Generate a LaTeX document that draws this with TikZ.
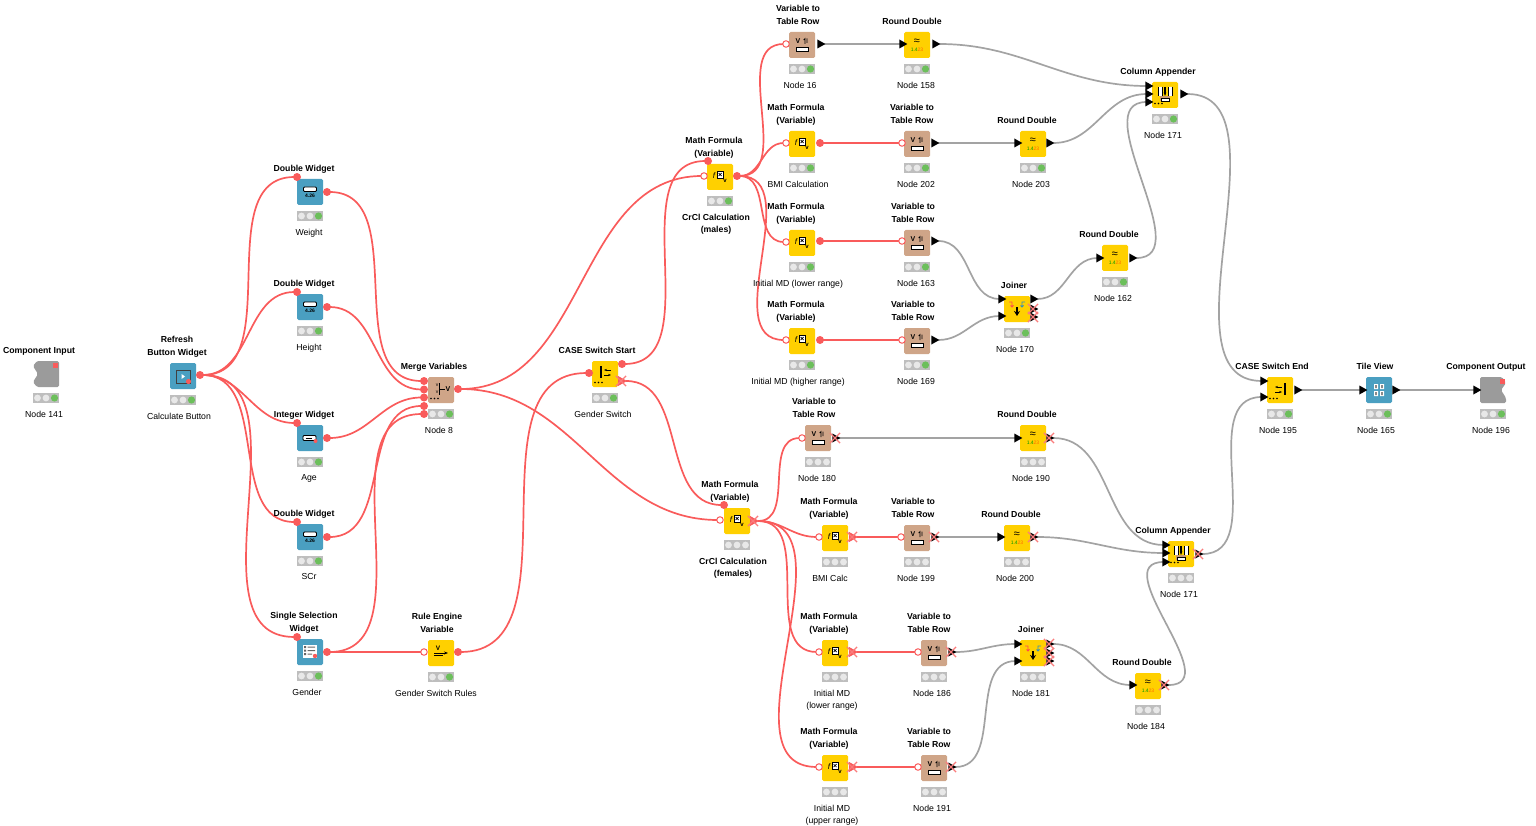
\documentclass[tikz,border=0pt]{standalone}
\usepackage{fontspec}
\setmainfont{Liberation Sans}
\usetikzlibrary{shapes.geometric,shapes.misc,backgrounds,arrows.meta}

\definecolor{knyellow}{HTML}{FFD000}
\definecolor{kntan}{HTML}{CFA588}
\definecolor{knblue}{HTML}{4A9FC1}
\definecolor{kngray}{HTML}{9B9B9B}
\definecolor{knred}{HTML}{F95B5B}
\definecolor{knwire}{HTML}{A3A3A3}
\definecolor{knlamp}{HTML}{BEBEBE}
\definecolor{knlight}{HTML}{E8E8E8}
\definecolor{kngreen}{HTML}{6CBF5B}

\newcommand{\threedots}{\fill (-10,8.5) circle (0.9) (-6.5,8.5) circle (0.9) (-3,8.5) circle (0.9);}

\tikzset{
  box/.style={rectangle, rounded corners=1.5, minimum size=26, inner sep=0},
  yellowbox/.style={box, fill=knyellow},
  tanbox/.style={box, fill=kntan},
  bluebox/.style={box, fill=knblue},
  compbox/.style={box},
  title/.style={font=\bfseries\fontsize{8.7}{12.6}\selectfont, align=center, anchor=south, inner sep=0, text depth=2pt},
  caption/.style={font=\fontsize{8.7}{12.4}\selectfont, align=center, anchor=north, inner sep=0},
  tiny/.style={font=\fontsize{#1}{#1}\selectfont, inner sep=0},
  varout/.style={circle, fill=knred, minimum size=8, inner sep=0},
  varin/.style={circle, draw=knred, fill=white, line width=1, minimum size=6.5, inner sep=0},
  dataport/.style={isosceles triangle, isosceles triangle stretches, fill=black, minimum width=9, minimum height=8, inner sep=0, xshift=-1},
  redport/.style={dataport, fill=knred, minimum width=10, minimum height=9},
  xmark/.style={cross out, draw=knred!80, line width=1.2, minimum size=9, inner sep=0},
  offmark/.style={label={[xmark]center:}},
  wirered/.style={draw=knred, line width=1.7, shorten <=-1.5pt, shorten >=-1.5pt},
  wiregray/.style={draw=knwire, line width=1.7, shorten <=-1.5pt, shorten >=-1.5pt},
  curve/.style={out=0, in=180},
  % lamps under the nodes
  pics/lampok/.style={code={
    \fill[knlamp] (-13,-5) rectangle (13,5);
    \fill[knlight] (-8.5,0) circle (3.4) (0,0) circle (3.4);
    \fill[kngreen] (8.5,0) circle (3.6);
  }},
  pics/lampoff/.style={code={
    \fill[knlamp] (-13,-5) rectangle (13,5);
    \fill[knlight] (-8.5,0) circle (3.4) (0,0) circle (3.4) (8.5,0) circle (3.4);
  }},
  % node icons
  pics/vtricon/.style={code={
    \node[tiny=7] at (-4,-4) {\bfseries V};
    \draw[line width=.7] (3,-1) -- (3,-6.5) -- (1.5,-5) (5,-6.5) -- (5,-2);
    \draw[line width=.7, fill=white] (-6,2) rectangle (6,6.5);
  }},
  pics/roundicon/.style={code={
    \node[tiny=11] at (0,-3) {≈};
    \node[tiny=5] at (0,5) {\textcolor{green!60!black}{1.4}\textcolor{orange!80!red}{23}};
  }},
  pics/mathicon/.style={code={
    \node[tiny=8] at (-6,-1) {\itshape f};
    \draw[line width=.6, fill=white] (-3,-6) rectangle (3,1);
    \draw[line width=.7] (-1.5,-4) -- (1.5,-1) (-1.5,-1) -- (1.5,-4);
    \node[tiny=6] at (5,4) {\bfseries v};
  }},
  pics/joinicon/.style={code={
    \draw[red!70, line width=.8] (-8,-7) -- (-5,-7) -- (-5,-2) (-6.5,-3.5) -- (-5,-2) -- (-3.5,-3.5);
    \draw[cyan!70!black, line width=.8] (8,-7) -- (5,-7) -- (5,-2) (6.5,-3.5) -- (5,-2) -- (3.5,-3.5);
    \draw[line width=1.4, -{Stealth[length=5, width=6]}] (0,-2) -- (0,7);
  }},
  pics/colicon/.style={code={
    \fill[white] (-7,-8) rectangle (-3,1) (3,-8) rectangle (7,1);
    \draw[line width=.7] (-7,-8) -- (-7,1) (-3,-8) -- (-3,1) (3,-8) -- (3,1) (7,-8) -- (7,1);
    \draw[line width=1.1, -{Stealth[length=3.5]}] (0,-8) -- (0,1);
    \fill[kntan!70!brown] (-5,1) rectangle (5,6);
    \draw[line width=.5, fill=white] (-4,3) rectangle (4,6);
    \threedots
  }},
  pics/mergeicon/.style={code={
    \node[tiny=5] at (-4,-5) {v};
    \node[tiny=5] at (-4,2) {v};
    \draw[line width=.7] (-1.5,-7) -- (-1.5,5) (-1.5,-1) -- (4,-1);
    \node[tiny=7] at (7,-1) {\bfseries V};
    \threedots
  }},
  pics/starticon/.style={code={
    \draw[line width=1.1] (-4,-8) -- (-4,4);
    \draw[line width=.8, {Stealth[length=3]}-] (-1,-4) -- (6,-4);
    \draw[line width=.8, -{Stealth[length=3]}] (-1,1) -- (6,1);
    \threedots
  }},
  pics/endicon/.style={code={
    \draw[line width=1.1] (5,-7) -- (5,5);
    \draw[line width=.8, {Stealth[length=3]}-] (-5,-3) -- (2,-3);
    \draw[line width=.8, -{Stealth[length=3]}] (-5,2) -- (2,2);
    \threedots
  }},
  pics/ruleicon/.style={code={
    \node[tiny=6.5] at (-3,-5) {\bfseries V};
    \draw[line width=.9, -{Stealth[length=4]}] (-7,0) -- (7,0);
    \draw[line width=.9] (-7,2.5) -- (2,2.5);
  }},
  pics/tileicon/.style={code={
    \fill[white] (-5,-6) rectangle (-1,-1) (1,-6) rectangle (5,-1) (-5,1) rectangle (-1,6) (1,1) rectangle (5,6);
    \fill[black!70] (-3.6,-5) rectangle (-2.4,-2) (2.4,-5) rectangle (3.6,-2) (-3.6,2) rectangle (-2.4,5) (2.4,2) rectangle (3.6,5);
  }},
  pics/doubleicon/.style={code={
    \draw[line width=.9, fill=white, rounded corners=1] (-6.5,-5) rectangle (6.5,-0.5);
    \node[tiny=5] at (0,3.5) {\bfseries 4.26};
  }},
  pics/inticon/.style={code={
    \draw[line width=.9, fill=white, rounded corners=1] (-7,-2.5) rectangle (6,2.5);
    \draw[line width=.6] (-4.5,0) -- (2,0);
    \fill[knred] (5.5,3) circle (2);
  }},
  pics/selecticon/.style={code={
    \fill[white] (-7,-7) rectangle (7,6);
    \fill[black!60] (-6,-6) rectangle (-4,-4) (-6,-2.5) rectangle (-4,-0.5) (-6,1) rectangle (-4,3) (-2.5,-5.5) rectangle (5,-4.5) (-2.5,-2) rectangle (5,-1) (-2.5,1.5) rectangle (2,2.5);
    \fill[knred] (5,4) circle (2.2);
  }},
  pics/refreshicon/.style={code={
    \draw[line width=.8, black!75] (-7,-6) rectangle (7,7);
    \fill[white] (-1.5,-2) -- (2,0.5) -- (-1.5,3) -- cycle;
    \fill[knred] (5.5,5.5) circle (2.6);
  }},
  pics/inputicon/.style={code={
    \fill[kngray, rounded corners=1.5] (-9,-13) -- (13,-13) -- (13,13) -- (-9,13) -- (-13,8) -- (-8,0) -- (-13,-8) -- cycle;
    \fill[knred] (7,-11) rectangle (12,-6);
  }},
  pics/outputicon/.style={code={
    \fill[kngray, rounded corners=1.5] (-13,-13) -- (9,-13) -- (13,-7) -- (8,0) -- (13,8) -- (13,13) -- (-13,13) -- cycle;
    \fill[knred] (7,-11) rectangle (12,-6);
  }},
}

% name, x, y, box style, icon, title, title x, caption, caption x
\newcommand{\wfnode}[9]{
  \node[#4] (#1) at (#2,#3) {};
  \pic at (#1.center) {#5};
  \pic at (#2,#3+24) {\lamp};
  \node[title] (#1-title) at (#7,#3-18.7) {#6};
  \node[caption] (#1-caption) at (#9,#3+36.5) {#8};
}

\begin{document}
\begin{tikzpicture}[x=1pt, y=-1pt]
  \useasboundingbox (0,0) rectangle (1536,826);
  \def\lamp{lampok}

  \wfnode{cinput}{46}{374}{compbox}{inputicon}{Component Input}{39}{Node 141}{44}
  \wfnode{refresh}{183}{376}{bluebox}{refreshicon}{Refresh\\Button Widget}{177}{Calculate Button}{179}
  \wfnode{weight}{310}{192}{bluebox}{doubleicon}{Double Widget}{304}{Weight}{309}
  \wfnode{height}{310}{307}{bluebox}{doubleicon}{Double Widget}{304}{Height}{309}
  \wfnode{age}{310}{438}{bluebox}{inticon}{Integer Widget}{304}{Age}{309}
  \wfnode{scr}{310}{537}{bluebox}{doubleicon}{Double Widget}{304}{SCr}{309}
  \wfnode{gender}{310}{652}{bluebox}{selecticon}{Single Selection\\Widget}{304}{Gender}{307}
  \wfnode{merge}{441}{390}{tanbox}{mergeicon}{Merge Variables}{434}{Node 8}{439}
  \wfnode{rulevar}{441}{653}{yellowbox}{ruleicon}{Rule Engine\\Variable}{437}{Gender Switch Rules}{436}
  \wfnode{swstart}{605}{374}{yellowbox}{starticon}{CASE Switch Start}{597}{Gender Switch}{603}

  \wfnode{crclm}{720}{177}{yellowbox}{mathicon}{Math Formula\\(Variable)}{714}{\bfseries CrCl Calculation\\\bfseries (males)}{716}
  \wfnode{n16}{802}{45}{tanbox}{vtricon}{Variable to\\Table Row}{798}{Node 16}{800}
  \wfnode{n158}{917}{45}{yellowbox}{roundicon}{Round Double}{912}{Node 158}{916}
  \wfnode{bmi}{802}{144}{yellowbox}{mathicon}{Math Formula\\(Variable)}{796}{BMI Calculation}{798}
  \wfnode{n202}{917}{144}{tanbox}{vtricon}{Variable to\\Table Row}{912}{Node 202}{916}
  \wfnode{n203}{1033}{144}{yellowbox}{roundicon}{Round Double}{1027}{Node 203}{1031}
  \wfnode{lowm}{802}{243}{yellowbox}{mathicon}{Math Formula\\(Variable)}{796}{Initial MD (lower range)}{798}
  \wfnode{n163}{917}{243}{tanbox}{vtricon}{Variable to\\Table Row}{913}{Node 163}{916}
  \wfnode{highm}{802}{341}{yellowbox}{mathicon}{Math Formula\\(Variable)}{796}{Initial MD (higher range)}{798}
  \wfnode{n169}{917}{341}{tanbox}{vtricon}{Variable to\\Table Row}{913}{Node 169}{916}
  \wfnode{join170}{1017}{309}{yellowbox}{joinicon}{Joiner}{1014}{Node 170}{1015}
  \wfnode{n162}{1115}{258}{yellowbox}{roundicon}{Round Double}{1109}{Node 162}{1113}
  \wfnode{col171}{1165}{95}{yellowbox}{colicon}{Column Appender}{1158}{Node 171}{1163}
  \wfnode{swend}{1280}{390}{yellowbox}{endicon}{CASE Switch End}{1272}{Node 195}{1278}
  \wfnode{tile}{1379}{390}{bluebox}{tileicon}{Tile View}{1375}{Node 165}{1376}
  \wfnode{coutput}{1493}{390}{compbox}{outputicon}{Component Output}{1486}{Node 196}{1491}

  \def\lamp{lampoff}
  \wfnode{crclf}{737}{521}{yellowbox}{mathicon}{Math Formula\\(Variable)}{730}{\bfseries CrCl Calculation\\\bfseries (females)}{733}
  \wfnode{n180}{818}{438}{tanbox}{vtricon}{Variable to\\Table Row}{814}{Node 180}{817}
  \wfnode{n190}{1033}{438}{yellowbox}{roundicon}{Round Double}{1027}{Node 190}{1031}
  \wfnode{bmic}{835}{538}{yellowbox}{mathicon}{Math Formula\\(Variable)}{829}{BMI Calc}{830}
  \wfnode{n199}{917}{538}{tanbox}{vtricon}{Variable to\\Table Row}{913}{Node 199}{916}
  \wfnode{n200}{1017}{538}{yellowbox}{roundicon}{Round Double}{1011}{Node 200}{1015}
  \wfnode{colb}{1181}{554}{yellowbox}{colicon}{Column Appender}{1173}{Node 171}{1179}
  \wfnode{lowf}{835}{653}{yellowbox}{mathicon}{Math Formula\\(Variable)}{829}{Initial MD\\(lower range)}{832}
  \wfnode{n186}{934}{653}{tanbox}{vtricon}{Variable to\\Table Row}{929}{Node 186}{932}
  \wfnode{join181}{1033}{653}{yellowbox}{joinicon}{Joiner}{1031}{Node 181}{1031}
  \wfnode{n184}{1148}{686}{yellowbox}{roundicon}{Round Double}{1142}{Node 184}{1146}
  \wfnode{upf}{835}{768}{yellowbox}{mathicon}{Math Formula\\(Variable)}{829}{Initial MD\\(upper range)}{832}
  \wfnode{n191}{934}{768}{tanbox}{vtricon}{Variable to\\Table Row}{929}{Node 191}{932}

  % ports
  \node[varout] (refresh-o) at (200,375) {};
  \node[varout] (weight-t) at (297,177) {};
  \node[varout] (weight-o) at (327,192) {};
  \node[varout] (height-t) at (297,292) {};
  \node[varout] (height-o) at (327,307) {};
  \node[varout] (age-t) at (297,423) {};
  \node[varout] (age-o) at (327,438) {};
  \node[varout] (scr-t) at (297,522) {};
  \node[varout] (scr-o) at (327,537) {};
  \node[varout] (gender-t) at (297,637) {};
  \node[varout] (gender-o) at (327,652) {};
  \node[varout] (merge-a) at (424,381) {};
  \node[varout] (merge-b) at (424,389.5) {};
  \node[varout] (merge-c) at (424,397.5) {};
  \node[varout] (merge-d) at (424,406) {};
  \node[varout] (merge-e) at (424,414) {};
  \node[varout] (merge-o) at (458,389) {};
  \node[varin] (rulevar-i) at (424,652) {};
  \node[varout] (rulevar-o) at (458,652) {};
  \node[varout] (swstart-i) at (589,373) {};
  \node[varout] (swstart-a) at (622,364) {};
  \node[redport, offmark] (swstart-b) at (622,381) {};
  \node[varout] (crclm-t) at (708,161) {};
  \node[varin] (crclm-i) at (704,176) {};
  \node[varout] (crclm-o) at (737,176) {};
  \node[varin] (n16-i) at (786,44) {};
  \node[dataport] (n16-o) at (821,44) {};
  \node[dataport] (n158-i) at (903,44) {};
  \node[dataport] (n158-o) at (936,44) {};
  \node[varin] (bmi-i) at (786,143) {};
  \node[varout] (bmi-o) at (820,143) {};
  \node[varin] (n202-i) at (902,143) {};
  \node[dataport] (n202-o) at (935,143) {};
  \node[dataport] (n203-i) at (1018,143) {};
  \node[dataport] (n203-o) at (1050,143) {};
  \node[varin] (lowm-i) at (786,242) {};
  \node[varout] (lowm-o) at (820,241) {};
  \node[varin] (n163-i) at (902,241) {};
  \node[dataport] (n163-o) at (935,241) {};
  \node[varin] (highm-i) at (786,340) {};
  \node[varout] (highm-o) at (820,340) {};
  \node[varin] (n169-i) at (902,340) {};
  \node[dataport] (n169-o) at (935,340) {};
  \node[dataport] (join170-a) at (1002,299) {};
  \node[dataport] (join170-b) at (1002,316) {};
  \node[dataport] (join170-o) at (1034,299) {};
  \node[dataport, offmark] (join170-p) at (1034,309) {};
  \node[dataport, offmark] (join170-q) at (1034,317) {};
  \node[dataport] (n162-i) at (1100,258) {};
  \node[dataport] (n162-o) at (1133,258) {};
  \node[dataport] (col171-a) at (1149,86) {};
  \node[dataport] (col171-b) at (1149,94) {};
  \node[dataport] (col171-c) at (1149,102) {};
  \node[dataport] (col171-o) at (1184,94) {};
  \node[dataport] (swend-a) at (1264,381) {};
  \node[dataport] (swend-b) at (1264,397) {};
  \node[dataport] (swend-o) at (1298,390) {};
  \node[dataport] (tile-i) at (1363,390) {};
  \node[dataport] (tile-o) at (1396,390) {};
  \node[dataport] (coutput-i) at (1477,390) {};

  \node[varout] (crclf-t) at (724,505) {};
  \node[varin] (crclf-i) at (720,520) {};
  \node[redport, offmark] (crclf-o) at (754,521) {};
  \node[varin] (n180-i) at (802,438) {};
  \node[dataport, offmark] (n180-o) at (836,438) {};
  \node[dataport] (n190-i) at (1018,438) {};
  \node[dataport, offmark] (n190-o) at (1050,438) {};
  \node[varin] (bmic-i) at (819,537) {};
  \node[redport, offmark] (bmic-o) at (853,537) {};
  \node[varin] (n199-i) at (901,537) {};
  \node[dataport, offmark] (n199-o) at (935,537) {};
  \node[dataport] (n200-i) at (1001,537) {};
  \node[dataport, offmark] (n200-o) at (1034,537) {};
  \node[dataport] (colb-a) at (1166,545) {};
  \node[dataport] (colb-b) at (1166,553) {};
  \node[dataport] (colb-c) at (1166,562) {};
  \node[dataport, offmark] (colb-o) at (1199,554) {};
  \node[varin] (lowf-i) at (819,652) {};
  \node[redport, offmark] (lowf-o) at (853,652) {};
  \node[varin] (n186-i) at (918,652) {};
  \node[dataport, offmark] (n186-o) at (952,652) {};
  \node[dataport] (join181-a) at (1018,644) {};
  \node[dataport] (join181-b) at (1018,661) {};
  \node[dataport, offmark] (join181-o) at (1050,644) {};
  \node[dataport, offmark] (join181-p) at (1050,653) {};
  \node[dataport, offmark] (join181-q) at (1050,661) {};
  \node[dataport] (n184-i) at (1133,685) {};
  \node[dataport, offmark] (n184-o) at (1165,685) {};
  \node[varin] (upf-i) at (819,767) {};
  \node[redport, offmark] (upf-o) at (853,767) {};
  \node[varin] (n191-i) at (918,767) {};
  \node[dataport, offmark] (n191-o) at (952,767) {};

  \begin{scope}[on background layer]
    % variable wires
    \draw[wirered] (refresh-o) to[curve] (weight-t);
    \draw[wirered] (refresh-o) to[curve] (height-t);
    \draw[wirered] (refresh-o) to[curve] (age-t);
    \draw[wirered] (refresh-o) to[curve] (scr-t);
    \draw[wirered] (refresh-o) to[curve] (gender-t);
    \draw[wirered] (weight-o) to[curve] (merge-a);
    \draw[wirered] (height-o) to[curve] (merge-b);
    \draw[wirered] (age-o) to[curve] (merge-c);
    \draw[wirered] (scr-o) to[curve] (merge-d);
    \draw[wirered] (gender-o) to[curve] (merge-e);
    \draw[wirered] (gender-o) to[curve] (rulevar-i);
    \draw[wirered] (rulevar-o) to[curve] (swstart-i);
    \draw[wirered] (merge-o) to[curve] (crclm-i);
    \draw[wirered] (merge-o) to[curve] (crclf-i);
    \draw[wirered] (swstart-a) to[curve] (crclm-t);
    \draw[wirered] (swstart-b) to[curve] (crclf-t);
    \draw[wirered] (crclm-o) to[curve] (n16-i);
    \draw[wirered] (crclm-o) to[curve] (bmi-i);
    \draw[wirered] (crclm-o) to[curve] (lowm-i);
    \draw[wirered] (crclm-o) to[curve] (highm-i);
    \draw[wirered] (bmi-o) to[curve] (n202-i);
    \draw[wirered] (lowm-o) to[curve] (n163-i);
    \draw[wirered] (highm-o) to[curve] (n169-i);
    \draw[wirered] (crclf-o) to[curve] (n180-i);
    \draw[wirered] (crclf-o) to[curve] (bmic-i);
    \draw[wirered] (crclf-o) to[curve] (lowf-i);
    \draw[wirered] (crclf-o) to[curve] (upf-i);
    \draw[wirered] (bmic-o) to[curve] (n199-i);
    \draw[wirered] (lowf-o) to[curve] (n186-i);
    \draw[wirered] (upf-o) to[curve] (n191-i);
    % data wires
    \draw[wiregray] (n16-o) to[curve] (n158-i);
    \draw[wiregray] (n158-o) to[curve] (col171-a);
    \draw[wiregray] (n202-o) to[curve] (n203-i);
    \draw[wiregray] (n203-o) to[curve] (col171-b);
    \draw[wiregray] (n163-o) to[curve] (join170-a);
    \draw[wiregray] (n169-o) to[curve] (join170-b);
    \draw[wiregray] (join170-o) to[curve] (n162-i);
    \draw[wiregray] (n162-o) to[curve] (col171-c);
    \draw[wiregray] (col171-o) to[curve, looseness=0.9] (swend-a);
    \draw[wiregray] (swend-o) to[curve] (tile-i);
    \draw[wiregray] (tile-o) to[curve] (coutput-i);
    \draw[wiregray] (n180-o) to[curve] (n190-i);
    \draw[wiregray] (n190-o) to[curve] (colb-a);
    \draw[wiregray] (n199-o) to[curve] (n200-i);
    \draw[wiregray] (n200-o) to[curve] (colb-b);
    \draw[wiregray] (n186-o) to[curve] (join181-a);
    \draw[wiregray] (n191-o) to[curve] (join181-b);
    \draw[wiregray] (join181-o) to[curve] (n184-i);
    \draw[wiregray] (n184-o) to[curve, looseness=1.2] (colb-c);
    \draw[wiregray] (colb-o) to[curve] (swend-b);
  \end{scope}
\end{tikzpicture}
\end{document}
